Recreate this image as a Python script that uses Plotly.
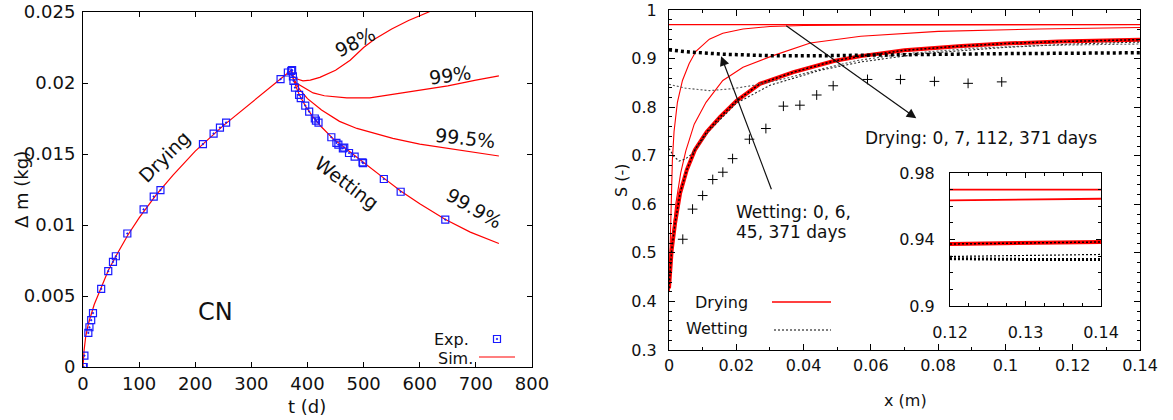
import plotly.graph_objects as go

W, H = 1173, 420
FONT = "DejaVu Sans"
RED = "#ff0000"
BLUE = "#1a1aff"

# ---------------- left panel: mass change of the CN specimen ----------------
t_exp_dry = [0, 0.5, 1, 2.5, 9.5, 11.5, 14.6, 17.8, 32.4, 45, 53.4, 58.5, 79, 108,
             126, 138, 213.7, 232.7, 244, 255, 352, 365, 371, 372.6]
dm_exp_dry = [0, 0, 0, 0.0008, 0.0024, 0.0028, 0.0033, 0.0038, 0.0055, 0.00675, 0.0074,
              0.0078, 0.0094, 0.0111, 0.0120, 0.01246, 0.0157, 0.01644, 0.01686, 0.01721,
              0.02027, 0.02074, 0.02086, 0.0209]
t_exp_wet = [374, 375, 377.7, 385, 388, 396, 403, 413, 415, 419.6, 442.5, 451.5, 455, 463,
             465.5, 474, 484, 498, 499, 536, 566, 645.5]
dm_exp_wet = [0.02046, 0.02015, 0.01968, 0.01916, 0.01893, 0.01841, 0.01799, 0.0175, 0.01735,
              0.01721, 0.01618, 0.01578, 0.01566, 0.0154, 0.01545, 0.01507, 0.01481, 0.01441,
              0.01436, 0.01324, 0.01234, 0.01038]

t_sim_dry = [0, 2, 5, 10, 20, 30, 45, 60, 80, 100, 130, 160, 200, 250, 300, 340, 371]
dm_sim_dry = [0, 0.0012, 0.0022, 0.0031, 0.0044, 0.0054, 0.0068, 0.0079, 0.0093, 0.0105,
              0.0121, 0.0135, 0.0152, 0.0170, 0.0186, 0.0199, 0.0209]

t_sim_98 = [371, 374, 380, 392, 405, 422, 450, 476, 500, 520, 550, 580, 616, 660]
dm_sim_98 = [0.0209, 0.0205, 0.0203, 0.02015, 0.0202, 0.0204, 0.0209, 0.0216, 0.0225,
             0.0231, 0.0238, 0.0244, 0.0250, 0.0259]
t_sim_99 = [371, 375, 380, 392, 410, 430, 452, 470, 511, 550, 600, 650, 700, 741]
dm_sim_99 = [0.0209, 0.0203, 0.0200, 0.0197, 0.0193, 0.0191, 0.0190, 0.01895, 0.01895,
             0.0192, 0.0195, 0.0198, 0.0202, 0.0205]
t_sim_995 = [371, 375, 380, 387, 400, 425, 457, 488, 520, 552, 600, 679, 741]
dm_sim_995 = [0.0209, 0.0203, 0.0199, 0.0195, 0.0189, 0.0181, 0.0173, 0.0168, 0.01645,
              0.0161, 0.0157, 0.0152, 0.01486]
t_sim_999 = [371, 376, 385, 396, 410, 425, 445, 470, 500, 536, 566, 600, 645, 690, 741]
dm_sim_999 = [0.0209, 0.0201, 0.0192, 0.0184, 0.0176, 0.0169, 0.0161, 0.0153, 0.0144,
              0.0133, 0.0124, 0.0115, 0.0104, 0.0095, 0.0087]

t_ticks = [0, 100, 200, 300, 400, 500, 600, 700, 800]
t_ticktext = ["0", "100", "200", "300", "400", "500", "600", "700", "800"]
dm_ticks = [0, 0.005, 0.01, 0.015, 0.02, 0.025]
dm_ticktext = ["0", "0.005", "0.01", "0.015", "0.02", "0.025"]

# ---------------- right panel: saturation profiles ----------------
x_dry0 = [0, 0.14]
s_dry0 = [0.970, 0.970]
x_dry7 = [0, 0.0005, 0.001, 0.0015, 0.0025, 0.004, 0.006, 0.008, 0.012, 0.016, 0.022,
          0.03, 0.04, 0.06, 0.1, 0.14]
s_dry7 = [0.42, 0.58, 0.69, 0.75, 0.81, 0.855, 0.89, 0.915, 0.94, 0.952, 0.961, 0.966,
          0.968, 0.969, 0.970, 0.970]
x_dry112 = [0, 0.001, 0.002, 0.0035, 0.005, 0.0075, 0.011, 0.016, 0.022, 0.0305, 0.042,
            0.057, 0.08, 0.11, 0.14]
s_dry112 = [0.42, 0.53, 0.60, 0.665, 0.71, 0.765, 0.81, 0.855, 0.882, 0.905, 0.932, 0.946,
            0.956, 0.961, 0.964]
x_dry371 = [0, 0.0008, 0.0018, 0.0033, 0.0053, 0.0077, 0.0112, 0.0152, 0.0201, 0.027,
            0.037, 0.049, 0.057, 0.07, 0.087, 0.1, 0.116, 0.13, 0.14]
s_dry371 = [0.427, 0.506, 0.561, 0.623, 0.671, 0.712, 0.749, 0.780, 0.813, 0.848, 0.872,
            0.895, 0.905, 0.917, 0.926, 0.931, 0.935, 0.938, 0.939]
x_wet6 = [0, 0.0015, 0.003, 0.0048, 0.0067, 0.009, 0.012, 0.02, 0.03, 0.045, 0.057, 0.075,
          0.1, 0.12, 0.14]
s_wet6 = [0.715, 0.698, 0.689, 0.693, 0.703, 0.725, 0.752, 0.808, 0.845, 0.876, 0.893,
          0.910, 0.923, 0.930, 0.934]
x_wet45 = [0, 0.005, 0.012, 0.019, 0.026, 0.034, 0.045, 0.056, 0.07, 0.09, 0.11, 0.14]
s_wet45 = [0.847, 0.839, 0.834, 0.838, 0.846, 0.858, 0.878, 0.896, 0.910, 0.921, 0.927,
           0.930]
x_wet371 = [0, 0.005, 0.016, 0.03, 0.047, 0.057, 0.075, 0.096, 0.12, 0.14]
s_wet371 = [0.918, 0.914, 0.909, 0.906, 0.906, 0.907, 0.909, 0.910, 0.911, 0.912]

x_meas = [0.0041, 0.0070, 0.0100, 0.0130, 0.0160, 0.0189, 0.0239, 0.0288, 0.0340, 0.0389,
          0.0439, 0.0488, 0.0590, 0.0688, 0.0789, 0.0889, 0.0989]
s_meas = [0.528, 0.590, 0.618, 0.651, 0.666, 0.694, 0.734, 0.756, 0.802, 0.804, 0.825,
          0.844, 0.857, 0.857, 0.853, 0.849, 0.852]

x_ticks = [0, 0.02, 0.04, 0.06, 0.08, 0.1, 0.12, 0.14]
x_ticktext = ["0", "0.02", "0.04", "0.06", "0.08", "0.1", "0.12", "0.14"]
s_ticks = [0.3, 0.4, 0.5, 0.6, 0.7, 0.8, 0.9, 1.0]
s_ticktext = ["0.3", "0.4", "0.5", "0.6", "0.7", "0.8", "0.9", "1"]

# inset: profiles near the sealed end
inset_x = [0.12, 0.13, 0.14]
inset_dry0 = [0.970, 0.970, 0.970]
inset_dry112 = [0.9635, 0.964, 0.9645]
inset_dry371 = [0.9373, 0.938, 0.9385]
inset_wet6 = [0.9298, 0.9305, 0.931]
inset_wet371 = [0.9285, 0.928, 0.928]
inset_xticks = [0.12, 0.13, 0.14]
inset_xticktext = ["0.12", "0.13", "0.14"]
inset_sticks = [0.9, 0.94, 0.98]
inset_sticktext = ["0.9", "0.94", "0.98"]


def px(x):
    return x / W


def py(y):
    return 1 - y / H


fig = go.Figure()


def line(x, y, xa, ya, color, width, dash="solid"):
    fig.add_trace(go.Scatter(x=x, y=y, xaxis=xa, yaxis=ya, mode="lines",
                             line=dict(color=color, width=width, dash=dash),
                             showlegend=False, hoverinfo="skip"))


# left panel traces
for tt, mm in [(t_sim_dry, dm_sim_dry), (t_sim_98, dm_sim_98), (t_sim_99, dm_sim_99),
               (t_sim_995, dm_sim_995), (t_sim_999, dm_sim_999)]:
    line(tt, mm, "x", "y", RED, 1.2)
for tt, mm in [(t_exp_dry, dm_exp_dry), (t_exp_wet, dm_exp_wet)]:
    fig.add_trace(go.Scatter(x=tt, y=mm, xaxis="x", yaxis="y", mode="markers",
                             marker=dict(symbol="square-open-dot", size=7, color=BLUE,
                                         line=dict(width=1.2, color=BLUE)),
                             showlegend=False, hoverinfo="skip"))

# right panel traces
line(x_dry0, s_dry0, "x2", "y2", RED, 1.3)
line(x_dry7, s_dry7, "x2", "y2", RED, 1.1)
line(x_dry112, s_dry112, "x2", "y2", RED, 1.1)
line(x_dry371, s_dry371, "x2", "y2", RED, 4)
line(x_dry371, s_dry371, "x2", "y2", "#000000", 1.5, "2px,2px")
line(x_wet6, s_wet6, "x2", "y2", "#222222", 1.1, "2px,2px")
line(x_wet45, s_wet45, "x2", "y2", "#555555", 1.1, "2px,2px")
line(x_wet371, s_wet371, "x2", "y2", "#000000", 3.5, "3px,3px")
fig.add_trace(go.Scatter(x=x_meas, y=s_meas, xaxis="x2", yaxis="y2", mode="markers",
                         marker=dict(symbol="cross-thin", size=7, color="#000000",
                                     line=dict(width=1, color="#000000")),
                         showlegend=False, hoverinfo="skip"))

# inset traces
line(inset_x, inset_dry0, "x3", "y3", RED, 1.8)
line(inset_x, inset_dry112, "x3", "y3", RED, 1.8)
line(inset_x, inset_dry371, "x3", "y3", RED, 4)
line(inset_x, inset_dry371, "x3", "y3", "#000000", 1.5, "2px,2px")
line(inset_x, inset_wet6, "x3", "y3", "#000000", 1.2, "2px,2px")
line(inset_x, inset_wet371, "x3", "y3", "#000000", 3, "2px,2px")

axis_common = dict(showline=True, linecolor="#000000", linewidth=1, mirror="allticks",
                   ticks="inside", tickcolor="#000000", showgrid=False, zeroline=False,
                   tickmode="array", automargin=False)

fig.update_layout(
    width=W, height=H, margin=dict(l=0, r=0, t=0, b=0, autoexpand=False),
    paper_bgcolor="white", plot_bgcolor="white",
    font=dict(family=FONT, color="#111111"),
    xaxis=dict(axis_common, domain=[px(83), px(532)], range=[0, 800], anchor="y",
               tickvals=t_ticks, ticktext=t_ticktext, ticklen=5,
               tickfont=dict(size=18), ticklabelstandoff=0),
    yaxis=dict(axis_common, domain=[py(367), py(12)], range=[0, 0.025], anchor="x",
               tickvals=dm_ticks, ticktext=dm_ticktext, ticklen=5,
               tickfont=dict(size=18), ticklabelstandoff=3),
    xaxis2=dict(axis_common, domain=[px(669), px(1140)], range=[0, 0.14], anchor="y2",
                tickvals=x_ticks, ticktext=x_ticktext, ticklen=6,
                tickfont=dict(size=16), ticklabelstandoff=1,
                minor=dict(tickmode="linear", tick0=0, dtick=0.01, ticklen=3,
                           ticks="inside", tickcolor="#000000")),
    yaxis2=dict(axis_common, domain=[py(350), py(10)], range=[0.3, 1.0], anchor="x2",
                tickvals=s_ticks, ticktext=s_ticktext, ticklen=6,
                tickfont=dict(size=16), ticklabelstandoff=8,
                minor=dict(tickmode="linear", tick0=0.3, dtick=0.02, ticklen=3,
                           ticks="inside", tickcolor="#000000")),
    xaxis3=dict(axis_common, domain=[px(950), px(1101)], range=[0.12, 0.14], anchor="y3",
                tickvals=inset_xticks, ticktext=inset_xticktext, ticklen=5,
                tickfont=dict(size=16), ticklabelstandoff=12,
                minor=dict(tickmode="linear", tick0=0.12, dtick=0.0025, ticklen=3,
                           ticks="inside", tickcolor="#000000")),
    yaxis3=dict(axis_common, domain=[py(306), py(173)], range=[0.9, 0.98], anchor="x3",
                tickvals=inset_sticks, ticktext=inset_sticktext, ticklen=5,
                tickfont=dict(size=16), ticklabelstandoff=11,
                minor=dict(tickmode="linear", tick0=0.9, dtick=0.01, ticklen=3,
                           ticks="inside", tickcolor="#000000")),
)

annotations = []


def label(x, y, text, size, angle=0, xanchor="center", yanchor="middle"):
    annotations.append(dict(x=px(x), y=py(y), xref="paper", yref="paper", text=text,
                            showarrow=False, textangle=angle, xanchor=xanchor,
                            yanchor=yanchor, font=dict(size=size, family=FONT,
                                                       color="#111111")))


# left panel labels
label(22, 190, "Δ m (kg)", 18, -90)
label(307, 406, "t (d)", 18)
label(355, 42, "98%", 19, -27)
label(450, 75, "99%", 19, -8)
label(465, 138, "99.5%", 19, 6)
label(474, 208, "99.9%", 19, 30)
label(164, 157, "Drying", 19, -45)
label(347, 183, "Wetting", 19, 37)
label(215, 312, "CN", 24)
label(471, 339, "Exp.", 16, xanchor="right")
label(475, 358, "Sim.", 16, xanchor="right")

# right panel labels
label(621, 180, "S (-)", 16, -90)
label(905, 400, "x (m)", 16)
label(981, 138, "Drying: 0, 7, 112, 371 days", 17)
label(734, 212, "Wetting: 0, 6,", 17, xanchor="left")
label(734, 232, "45, 371 days", 17, xanchor="left")
label(750, 302, "Drying", 16, xanchor="right")
label(750, 328, "Wetting", 16, xanchor="right")

# arrows pointing at the profile families
annotations.append(dict(x=0.0735, y=0.777, ax=0.0344, ay=0.970, xref="x2", yref="y2",
                        axref="x2", ayref="y2", text="", showarrow=True, arrowhead=2,
                        arrowsize=1.6, arrowwidth=1.2, arrowcolor="#111111"))
annotations.append(dict(x=0.0155, y=0.905, ax=0.0306, ay=0.628, xref="x2", yref="y2",
                        axref="x2", ayref="y2", text="", showarrow=True, arrowhead=2,
                        arrowsize=1.6, arrowwidth=1.2, arrowcolor="#111111"))

fig.update_layout(annotations=annotations)

# legend keys
shapes = [
    dict(type="rect", xref="paper", yref="paper", x0=px(493.5), x1=px(500.5),
         y0=py(342.5), y1=py(335.5), line=dict(color=BLUE, width=1.2)),
    dict(type="rect", xref="paper", yref="paper", x0=px(496.4), x1=px(497.6),
         y0=py(339.6), y1=py(338.4), line=dict(color=BLUE, width=0.8), fillcolor=BLUE),
    dict(type="line", xref="paper", yref="paper", x0=px(479), x1=px(515),
         y0=py(357), y1=py(357), line=dict(color=RED, width=1.2)),
    dict(type="line", xref="paper", yref="paper", x0=px(772), x1=px(831),
         y0=py(302), y1=py(302), line=dict(color=RED, width=1.3)),
    dict(type="line", xref="paper", yref="paper", x0=px(774), x1=px(831),
         y0=py(330), y1=py(330), line=dict(color="#000000", width=1.1, dash="2px,2px")),
]
fig.update_layout(shapes=shapes)

fig.write_html("out.html")
